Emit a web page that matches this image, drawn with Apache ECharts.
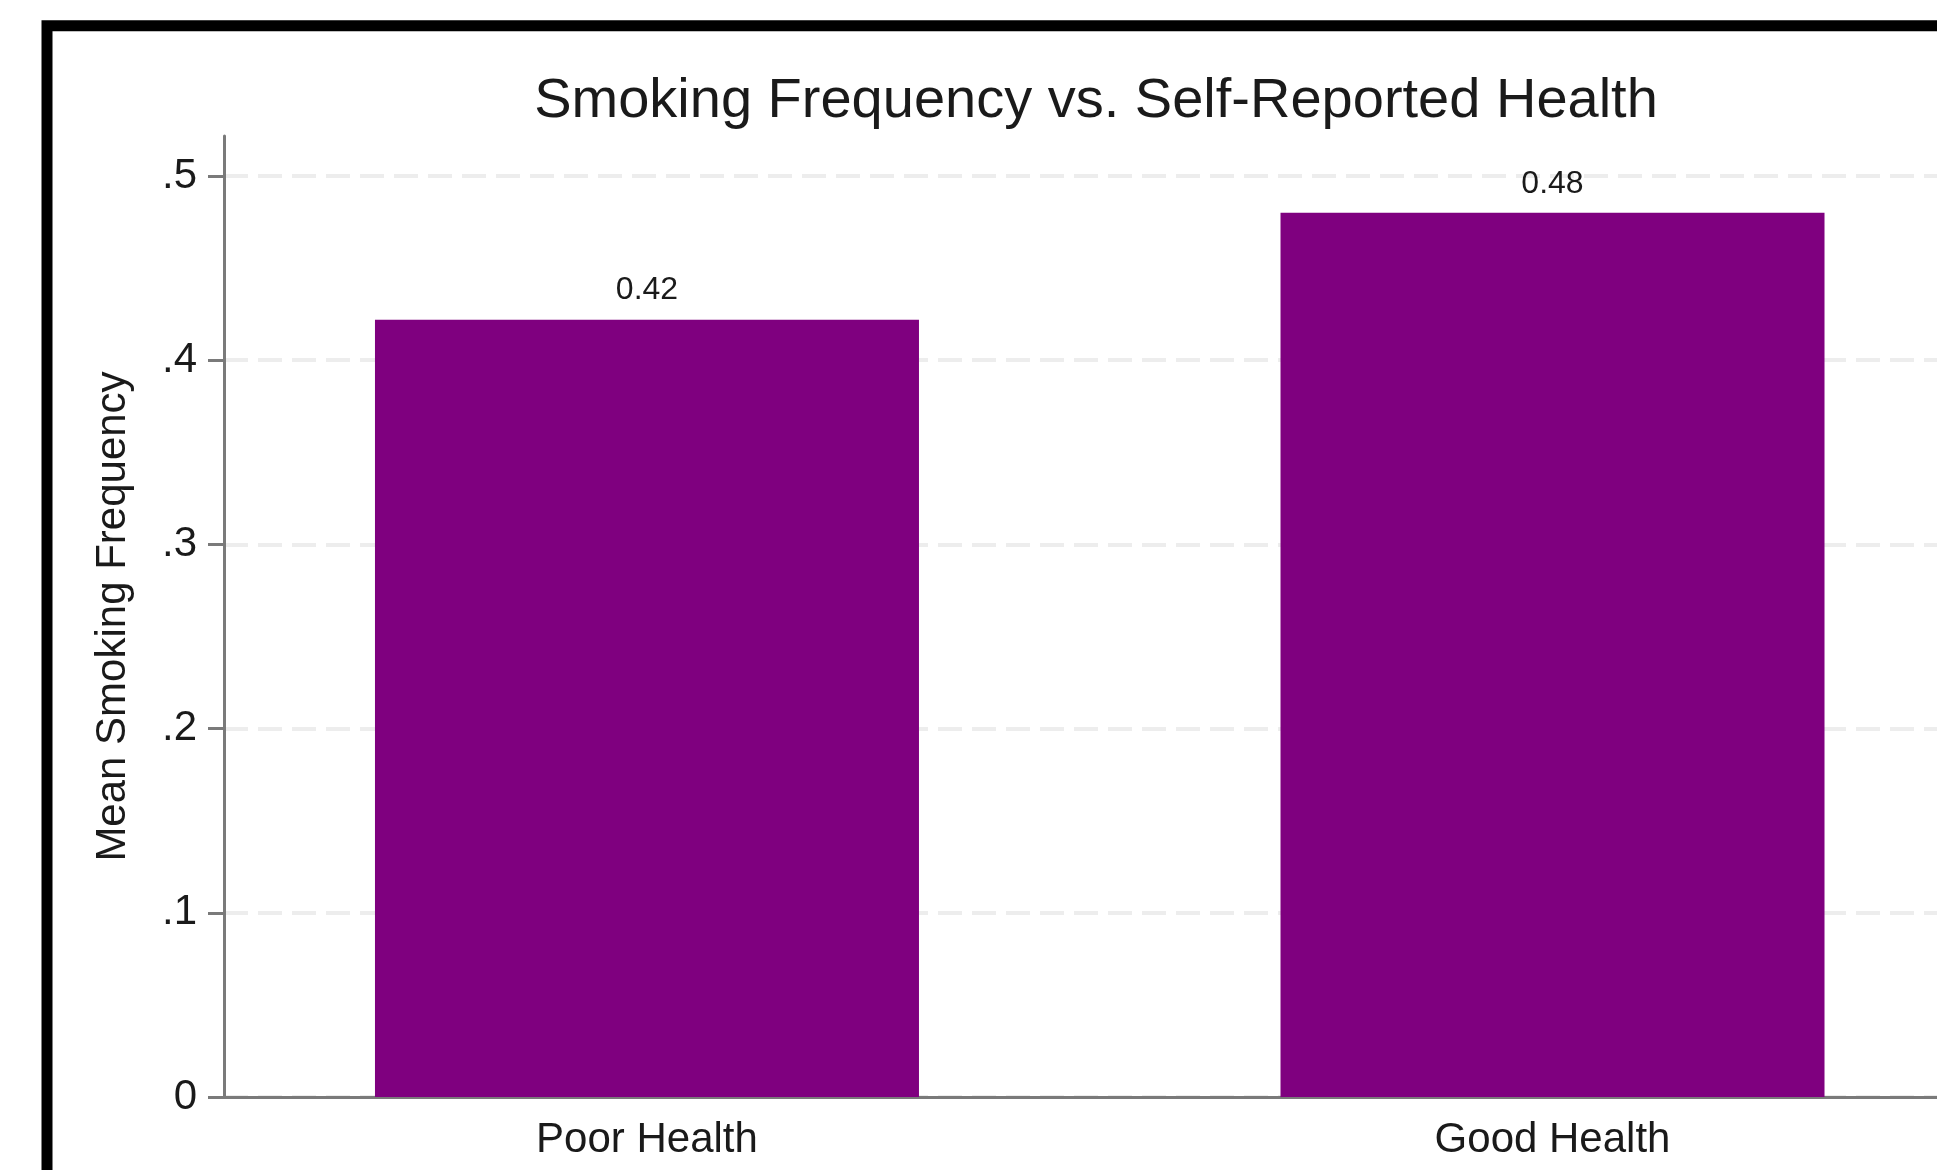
<!DOCTYPE html>
<html>
<head>
<meta charset="utf-8">
<script src="https://cdn.jsdelivr.net/npm/echarts@6/dist/echarts.min.js"></script>
<style>
  html, body { margin: 0; padding: 0; background: #ffffff; }
  #chart { width: 1937px; height: 1170px; }
</style>
</head>
<body>
<div id="chart"></div>
<script>
const chartTitle = 'Smoking Frequency vs. Self-Reported Health';
const yAxisTitle = 'Mean Smoking Frequency';
const categories = ['Poor Health', 'Good Health'];
const meanValues = [0.422, 0.480];
const yTicks = [0, 0.1, 0.2, 0.3, 0.4, 0.5];
const yTickLabels = ['0', '.1', '.2', '.3', '.4', '.5'];

const FONT = '"Liberation Sans", Arial, Helvetica, sans-serif';
const AXIS_GRAY = '#7a7a7a';

function tickLabel(v) {
  for (let i = 0; i < yTicks.length; i++) {
    if (Math.abs(yTicks[i] - v) < 1e-9) return yTickLabels[i];
  }
  return '';
}
function catLabel(v) {
  for (let i = 0; i < categories.length; i++) {
    if (Math.abs(i - v) < 1e-9) return categories[i];
  }
  return '';
}

const chart = echarts.init(document.getElementById('chart'), null, { renderer: 'canvas' });

const option = {
  backgroundColor: '#ffffff',
  animation: false,
  textStyle: { fontFamily: FONT },
  graphic: [
    {
      type: 'rect',
      silent: true,
      shape: { x: 47, y: 25.8, width: 3000, height: 3000 },
      style: { fill: 'none', stroke: '#000000', lineWidth: 11 },
      z: 100
    },
    {
      type: 'text',
      silent: true,
      x: 1096,
      y: 102,
      style: {
        text: chartTitle,
        fill: '#1a1a1a',
        font: '56px ' + FONT,
        align: 'center',
        verticalAlign: 'middle'
      },
      z: 100
    }
  ],
  grid: {
    left: 224,
    right: 0,
    top: 136,
    bottom: 73,
    containLabel: false,
    outerBoundsMode: 'none'
  },
  xAxis: {
    type: 'value',
    min: -0.4671,
    max: 1.4246,
    axisLine: { show: true, onZero: false, lineStyle: { color: AXIS_GRAY, width: 3 } },
    axisTick: { show: false },
    splitLine: { show: false },
    axisLabel: {
      customValues: [0, 1],
      formatter: catLabel,
      fontSize: 42,
      fontFamily: FONT,
      color: '#1a1a1a',
      margin: 22
    }
  },
  yAxis: {
    type: 'value',
    min: 0,
    max: 0.5217,
    interval: 0.1,
    name: yAxisTitle,
    nameLocation: 'middle',
    nameGap: 90,
    nameTextStyle: { fontSize: 42, fontFamily: FONT, color: '#1a1a1a' },
    axisLine: { show: true, onZero: false, lineStyle: { color: AXIS_GRAY, width: 3 } },
    axisTick: {
      show: true,
      customValues: yTicks,
      length: 16,
      lineStyle: { color: AXIS_GRAY, width: 3 }
    },
    axisLabel: {
      customValues: yTicks,
      formatter: tickLabel,
      fontSize: 42,
      fontFamily: FONT,
      color: '#1a1a1a',
      margin: 27
    },
    splitLine: {
      show: true,
      lineStyle: { color: '#ededed', width: 4, type: [24, 10] }
    }
  },
  series: [
    {
      type: 'bar',
      data: meanValues.map((v, i) => [i, v]),
      barWidth: 544,
      itemStyle: { color: '#7f007f' },
      label: {
        show: true,
        position: 'top',
        distance: 13,
        fontSize: 32,
        fontFamily: FONT,
        color: '#1a1a1a',
        formatter: (p) => p.value[1].toFixed(2)
      }
    }
  ]
};

chart.setOption(option);
</script>
</body>
</html>
